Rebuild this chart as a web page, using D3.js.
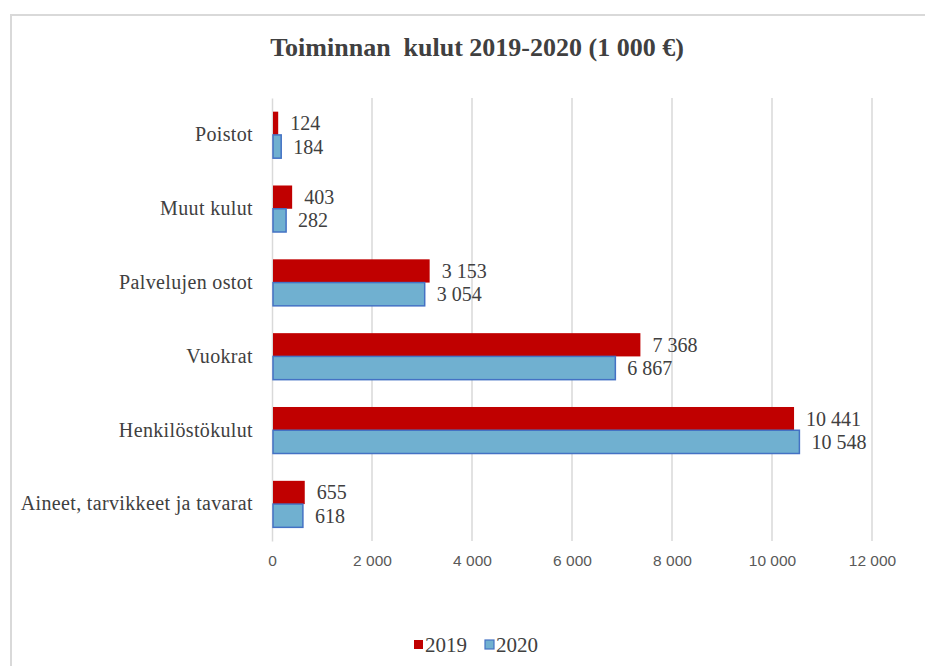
<!DOCTYPE html>
<html>
<head>
<meta charset="utf-8">
<script src="https://cdn.jsdelivr.net/npm/d3@7"></script>
<style>
  body { margin: 0; background: #fff; }
  svg { display: block; }
</style>
</head>
<body>
<div id="chart"></div>
<script>
const categories = ['Poistot', 'Muut kulut', 'Palvelujen ostot', 'Vuokrat', 'Henkilöstökulut', 'Aineet, tarvikkeet ja tavarat'];
const seriesNames = ['2019', '2020'];
const values2019 = [124, 403, 3153, 7368, 10441, 655];
const values2020 = [184, 282, 3054, 6867, 10548, 618];
const tickValues = [0, 2000, 4000, 6000, 8000, 10000, 12000];

const colors = { '2019': '#c00000', '2020': '#70b0d0' };
const strokes = { '2019': 'none', '2020': '#4472c4' };
const serif = 'Liberation Serif, DejaVu Serif, serif';

const width = 925;
const height = 666;
const margin = { top: 98, right: 53, bottom: 125, left: 272 };
const innerW = width - margin.left - margin.right;
const innerH = height - margin.top - margin.bottom;

// finnish style thousands: "10 441"
const fmt = (v) => d3.format(',')(v).replace(/,/g, ' ');

const svg = d3.select('#chart').append('svg')
  .attr('width', width)
  .attr('height', height);

// chart frame
svg.append('rect')
  .attr('x', 11).attr('y', 15)
  .attr('width', 940).attr('height', 700)
  .attr('fill', 'none')
  .attr('stroke', '#d9d9d9')
  .attr('stroke-width', 2);

svg.append('text')
  .attr('x', 477)
  .attr('y', 56)
  .attr('text-anchor', 'middle')
  .attr('font-family', serif)
  .attr('font-size', 26)
  .attr('font-weight', 'bold')
  .attr('fill', '#404040')
  .style('white-space', 'pre')
  .text('Toiminnan  kulut 2019-2020 (1 000 €)');

const g = svg.append('g')
  .attr('transform', `translate(${margin.left},${margin.top})`);

const x = d3.scaleLinear().domain([0, 12000]).range([0, innerW]);
const y = d3.scaleBand().domain(categories).range([0, innerH]).paddingInner(0.37).paddingOuter(0.185);
const ySub = d3.scaleBand().domain(seriesNames).range([0, y.bandwidth()]);

// gridlines
g.append('g')
  .selectAll('line')
  .data(tickValues.slice(1))
  .join('line')
  .attr('x1', (d) => x(d)).attr('x2', (d) => x(d))
  .attr('y1', 0).attr('y2', innerH)
  .attr('stroke', '#d9d9d9')
  .attr('stroke-width', 1.5);

// x axis labels
const xAxis = d3.axisBottom(x)
  .tickValues(tickValues)
  .tickSize(0)
  .tickPadding(14)
  .tickFormat(fmt);

g.append('g')
  .attr('transform', `translate(0,${innerH})`)
  .call(xAxis)
  .attr('font-family', 'Liberation Sans, sans-serif')
  .attr('font-size', 15.5)
  .call((sel) => sel.select('.domain').remove())
  .selectAll('text')
  .attr('fill', '#595959');

// y axis
const yAxis = d3.axisLeft(y).tickSize(0).tickPadding(19);
g.append('g')
  .call(yAxis)
  .attr('font-family', serif)
  .attr('font-size', 20)
  .call((sel) => sel.select('.domain').attr('stroke', '#d9d9d9').attr('stroke-width', 1.5))
  .selectAll('text')
  .attr('fill', '#404040')
  .style('letter-spacing', '0.35px');

const rows = categories.map((c, i) => ({
  category: c,
  items: [
    { series: '2019', value: values2019[i] },
    { series: '2020', value: values2020[i] },
  ],
}));

const groups = g.selectAll('.cat')
  .data(rows)
  .join('g')
  .attr('class', 'cat')
  .attr('transform', (d) => `translate(0,${y(d.category)})`);

groups.selectAll('rect')
  .data((d) => d.items)
  .join('rect')
  .attr('x', 1)
  .attr('y', (d) => ySub(d.series))
  .attr('width', (d) => x(d.value) - 1)
  .attr('height', ySub.bandwidth())
  .attr('fill', (d) => colors[d.series])
  .attr('stroke', (d) => strokes[d.series])
  .attr('stroke-width', 1.5);

groups.selectAll('.lbl')
  .data((d) => d.items)
  .join('text')
  .attr('class', 'lbl')
  .attr('x', (d) => x(d.value) + 12)
  .attr('y', (d) => ySub(d.series) + ySub.bandwidth() / 2)
  .attr('dy', '0.35em')
  .attr('font-family', serif)
  .attr('font-size', 20)
  .attr('fill', '#404040')
  .text((d) => fmt(d.value));

// legend
const legend = svg.append('g').attr('transform', 'translate(414,645)');
const legItems = legend.selectAll('g')
  .data(seriesNames)
  .join('g')
  .attr('transform', (d, i) => `translate(${i * 71},0)`);

legItems.append('rect')
  .attr('x', 0).attr('y', -5)
  .attr('width', 9).attr('height', 9)
  .attr('fill', (d) => colors[d])
  .attr('stroke', (d) => strokes[d])
  .attr('stroke-width', 1.2);

legItems.append('text')
  .attr('x', 11)
  .attr('y', 0)
  .attr('dy', '0.35em')
  .attr('font-family', serif)
  .attr('font-size', 21)
  .attr('fill', '#404040')
  .text((d) => d);
</script>
</body>
</html>
